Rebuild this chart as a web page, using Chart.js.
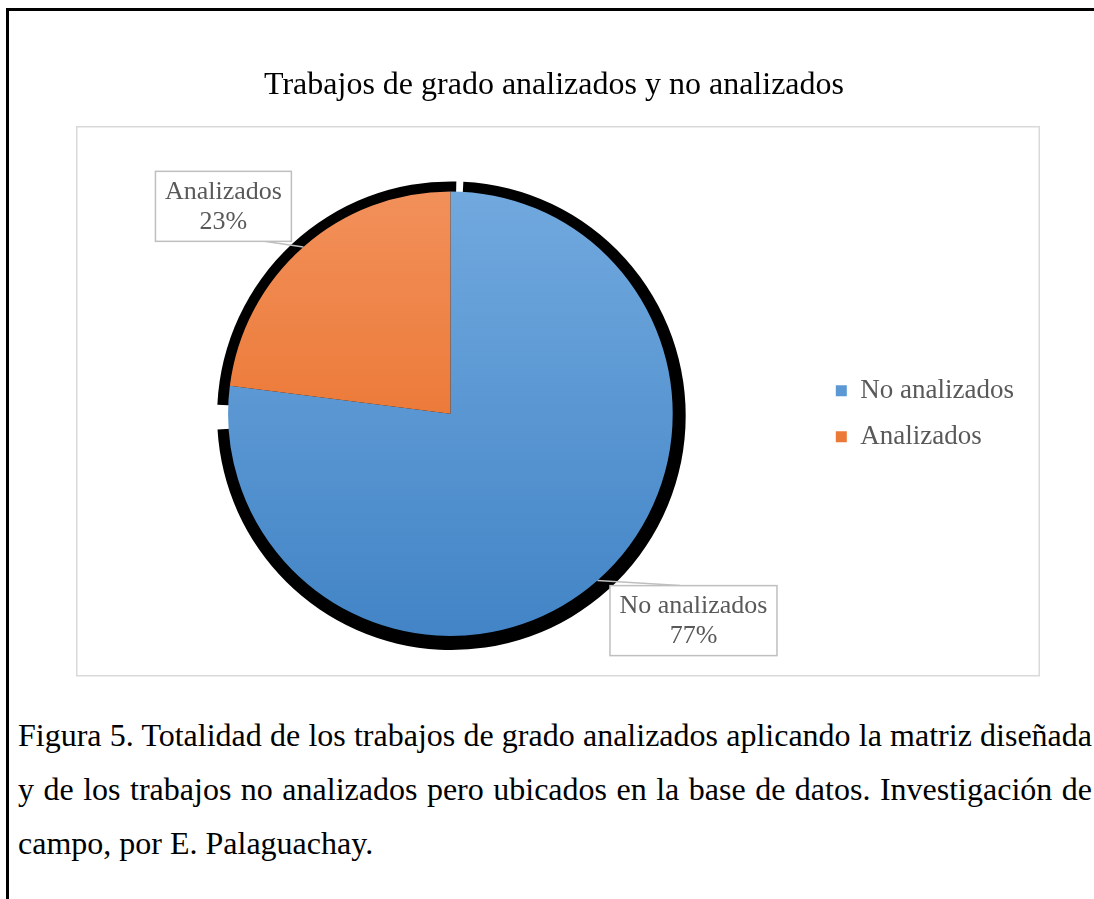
<!DOCTYPE html>
<html>
<head>
<meta charset="utf-8">
<script src="https://cdn.jsdelivr.net/npm/chart.js@4.4.0/dist/chart.umd.min.js"></script>
<style>
  html, body { margin: 0; padding: 0; background: #fff; overflow: hidden; }
  body { width: 1094px; height: 899px; position: relative; font-family: "Liberation Serif", "Times New Roman", serif; }
  #frame { position: absolute; left: 6px; top: 8px; width: 1200px; height: 1000px;
           border-left: 3px solid #000; border-top: 3px solid #000; }
  #wrap { position: absolute; left: 76px; top: 40px; width: 964px; height: 637px; }
  .cap { position: absolute; left: 18px; width: 1074px; font-size: 32px; line-height: 54px; color: #000; white-space: nowrap; }
  .just { text-align: justify; text-align-last: justify; white-space: normal; }
</style>
</head>
<body>
<div id="frame"></div>
<div id="wrap"><canvas id="pieChart"></canvas></div>
<div class="cap just" style="top:708px">Figura 5. Totalidad de los trabajos de grado analizados aplicando la matriz diseñada</div>
<div class="cap just" style="top:762px">y de los trabajos no analizados pero ubicados en la base de datos. Investigación de</div>
<div class="cap" style="top:816px">campo, por E. Palaguachay.</div>

<script>
// chart data
const categories = ["No analizados", "Analizados"];
const percentages = [77, 23];
const chartTitle = "Trabajos de grado analizados y no analizados";

// colours (top and bottom of the gradient)
const topColors = ["#71a9de", "#f2905a"];
const bottomColors = ["#4284c6", "#e6661a"];

// where each data label sits, relative to its slice
const labelPlace = [
  { shift: -0.143, dist: 1.436, attach: 0.42 },
  { shift: -0.108, dist: 1.383, attach: 0.8 }
];
// small angle tweaks for the black shadow behind each slice
const shadowTweak = [
  { ds: 0.051, de: -0.185 },
  { ds: -0.079, de: 0.021 }
];

function sliceFill(context) {
  const chart = context.chart;
  const area = chart.chartArea;
  const i = context.dataIndex;
  if (!area) return bottomColors[i];
  const g = chart.ctx.createLinearGradient(0, area.top, 0, area.bottom);
  g.addColorStop(0, topColors[i]);
  g.addColorStop(1, bottomColors[i]);
  return g;
}

// grey border round the plot area
const boxPlugin = {
  id: "plotBox",
  beforeDraw(chart) {
    const ctx = chart.ctx;
    ctx.save();
    ctx.strokeStyle = "#d9d9d9";
    ctx.lineWidth = 1.5;
    ctx.strokeRect(0.75, 86.75, chart.width - 1.5, chart.height - 88);
    ctx.restore();
  }
};

// black shadow under the pie
const shadowPlugin = {
  id: "pieShadow",
  beforeDatasetsDraw(chart) {
    const ctx = chart.ctx;
    const meta = chart.getDatasetMeta(0);
    ctx.save();
    ctx.fillStyle = "#000";
    meta.data.forEach((arc, i) => {
      const p = arc.getProps(["x", "y", "startAngle", "endAngle", "outerRadius"], true);
      const t = shadowTweak[i];
      ctx.beginPath();
      ctx.moveTo(p.x + 1, p.y + 2);
      ctx.arc(p.x + 1, p.y + 2, p.outerRadius + 12, p.startAngle + t.ds, p.endAngle + t.de);
      ctx.closePath();
      ctx.fill();
    });
    ctx.restore();
  }
};

// boxed data labels with leader lines
const labelPlugin = {
  id: "boxLabels",
  afterDatasetsDraw(chart) {
    const ctx = chart.ctx;
    const meta = chart.getDatasetMeta(0);
    ctx.save();
    ctx.font = "26px 'Liberation Serif'";
    ctx.textAlign = "center";
    ctx.textBaseline = "middle";
    meta.data.forEach((arc, i) => {
      const p = arc.getProps(["x", "y", "startAngle", "endAngle", "outerRadius"], true);
      const mid = (p.startAngle + p.endAngle) / 2;
      const R = p.outerRadius;
      const ex = p.x + R * Math.cos(mid);
      const ey = p.y + R * Math.sin(mid);
      const pl = labelPlace[i];
      const lx = p.x + pl.dist * R * Math.cos(mid + pl.shift);
      const ly = p.y + pl.dist * R * Math.sin(mid + pl.shift);
      const line1 = categories[i];
      const line2 = percentages[i] + "%";
      const w = Math.max(ctx.measureText(line1).width, ctx.measureText(line2).width) + 19;
      const h = 70;
      const bx = lx - w / 2, by = ly - h / 2;

      // leader
      const ax = bx + w * pl.attach;
      const ay = ly < ey ? by + h : by;
      ctx.strokeStyle = "#bfbfbf";
      ctx.lineWidth = 1.5;
      ctx.beginPath();
      ctx.moveTo(ex, ey);
      ctx.lineTo(ax, ay);
      ctx.stroke();

      ctx.fillStyle = "#fff";
      ctx.fillRect(bx, by, w, h);
      ctx.strokeRect(bx, by, w, h);
      ctx.fillStyle = "#595959";
      ctx.fillText(line1, lx, ly - 14);
      ctx.fillText(line2, lx, ly + 16);
    });
    ctx.restore();
  }
};

const ctx = document.getElementById("pieChart").getContext("2d");
new Chart(ctx, {
  type: "pie",
  data: {
    labels: categories,
    datasets: [
      {
        data: percentages,
        backgroundColor: sliceFill,
        borderWidth: 0
      }
    ]
  },
  options: {
    responsive: true,
    maintainAspectRatio: false,
    animation: false,
    layout: { padding: { left: 8, right: 16, top: 0, bottom: 41 } },
    plugins: {
      title: {
        display: true,
        text: chartTitle,
        color: "#000",
        font: { family: "Liberation Serif", size: 32, weight: "normal" },
        padding: { top: 26, bottom: 87 }
      },
      legend: {
        position: "right",
        fullSize: false,
        labels: {
          boxWidth: 11,
          boxHeight: 11,
          padding: 19,
          color: "#595959",
          font: { family: "Liberation Serif", size: 27 }
        }
      },
      tooltip: { enabled: false }
    }
  },
  plugins: [boxPlugin, shadowPlugin, labelPlugin]
});
</script>
</body>
</html>
